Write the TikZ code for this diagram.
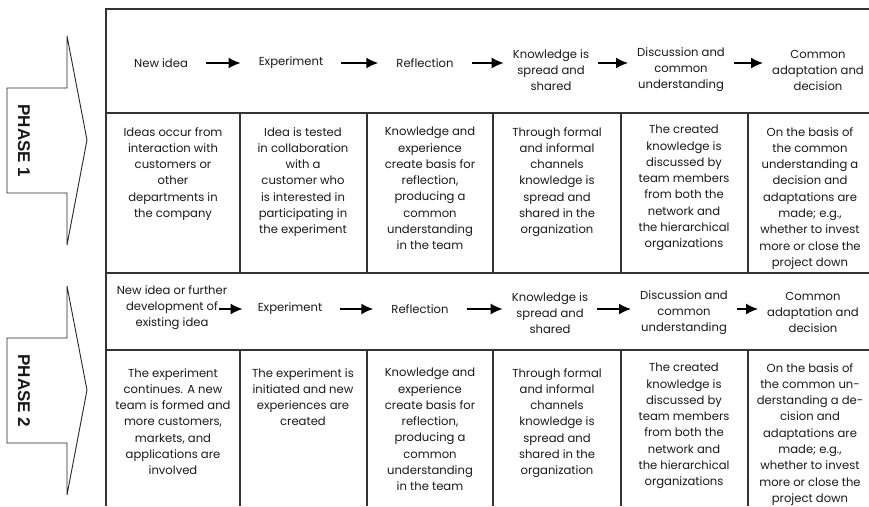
\documentclass[tikz,border=0pt]{standalone}
\usepackage{fontspec}
\setmainfont{Poppins}
\setsansfont{Liberation Sans}
\usetikzlibrary{arrows.meta}

\begin{document}
\begin{tikzpicture}[x=1pt,y=-1pt]
	\tikzstyle{frame}=[draw=black!80,line width=1.4pt]
	\tikzstyle{phasearrow}=[draw=black!85,line width=0.9pt,fill=white]
	\tikzstyle{phaselabel}=[font=\sffamily\bfseries\fontsize{17}{17}\selectfont,rotate=-90,inner sep=0pt,text=black!90]
	\tikzstyle{head}=[align=center,font=\fontsize{11.6}{16}\selectfont,inner xsep=9pt,inner ysep=1pt,text=black!90]
	\tikzstyle{word}=[head,inner xsep=18pt]
	\tikzstyle{cell}=[align=center,anchor=north,font=\fontsize{11.6}{16.3}\selectfont,inner sep=0pt,text=black!90]
	\tikzstyle{flow}=[-{Latex[length=12pt,width=11pt]},line width=1.6pt]

	\useasboundingbox (0,0) rectangle (869,506);

	\draw[frame] (869,9) -- (106,9) -- (106,506);
	\draw[frame] (106,113) -- (869,113);
	\draw[frame] (106,273) -- (869,273);
	\draw[frame] (106,350) -- (869,350);
	\foreach \x in {240,367,493,621,748} {
		\draw[frame] (\x,113) -- (\x,273);
		\draw[frame] (\x,350) -- (\x,506);
	}

	\foreach \n/\dy in {1/0,2/250} {
		\draw[phasearrow] (7,88+\dy) -- (67,88+\dy) -- (67,36+\dy) -- (87,140+\dy)
			-- (67,245+\dy) -- (67,193+\dy) -- (7,193+\dy) -- cycle;
		\node[phaselabel] (phase\n) at (24,141+\dy) {PHASE \n};
	}

	\node[word] (idea1) at (161,63) {New idea};
	\node[word] (exper1) at (291,63) {Experiment};
	\node[word] (refl1) at (425,63) {Reflection};
	\node[head] (know1) at (551,70) {Knowledge is\\spread and\\shared};
	\node[head] (disc1) at (681,70) {Discussion and\\common\\understanding};
	\node[head] (comm1) at (818,70) {Common\\adaptation and\\decision};

	\draw[flow] (idea1) -- (exper1);
	\draw[flow] (exper1) -- (refl1);
	\draw[flow] (refl1) -- (refl1 -| know1.west);
	\draw[flow] (know1.east |- refl1) -- (disc1.west |- refl1);
	\draw[flow] (disc1.east |- refl1) -- (comm1.west |- refl1);

	\node[cell] (occur1) at (173,127) {Ideas occur from\\interaction with\\customers or\\other\\departments in\\the company};
	\node[cell] (tested1) at (303,127) {Idea is tested\\in collaboration\\with a\\customer who\\is interested in\\participating in\\the experiment};
	\node[cell] (basis1) at (430,127) {Knowledge and\\experience\\create basis for\\reflection,\\producing a\\common\\understanding\\in the team};
	\node[cell] (channels1) at (557,127) {Through formal\\and informal\\channels\\knowledge is\\spread and\\shared in the\\organization};
	\node[cell] (created1) at (684,125) {The created\\knowledge is\\discussed by\\team members\\from both the\\network and\\the hierarchical\\organizations};
	\node[cell] (decision1) at (810,127) {On the basis of\\the common\\understanding a\\decision and\\adaptations are\\made; e.g.,\\whether to invest\\more or close the\\project down};

	\node[head,inner xsep=-2pt] (idea2) at (172,308) {New idea or further\\development of\\existing idea};
	\node[word] (exper2) at (290,309) {Experiment};
	\node[word] (refl2) at (420,309) {Reflection};
	\node[head] (know2) at (550,313) {Knowledge is\\spread and\\shared};
	\node[head] (disc2) at (684,313) {Discussion and\\common\\understanding};
	\node[head] (comm2) at (813,312) {Common\\adaptation and\\decision};

	\draw[flow,shorten <=-6pt,shorten >=-3pt] (idea2.east |- exper2) -- (exper2);
	\draw[flow] (exper2) -- (refl2);
	\draw[flow] (refl2) -- (refl2 -| know2.west);
	\draw[flow] (know2.east |- refl2) -- (disc2.west |- refl2);
	\draw[flow] (disc2.east |- refl2) -- (comm2.west |- refl2);

	\node[cell] (continues2) at (173,368) {The experiment\\continues. A new\\team is formed and\\more customers,\\markets, and\\applications are\\involved};
	\node[cell] (initiated2) at (303,368) {The experiment is\\initiated and new\\experiences are\\created};
	\node[cell] (basis2) at (430,368) {Knowledge and\\experience\\create basis for\\reflection,\\producing a\\common\\understanding\\in the team};
	\node[cell] (channels2) at (557,368) {Through formal\\and informal\\channels\\knowledge is\\spread and\\shared in the\\organization};
	\node[cell] (created2) at (684,363) {The created\\knowledge is\\discussed by\\team members\\from both the\\network and\\the hierarchical\\organizations};
	\node[cell] (decision2) at (810,363) {On the basis of\\the common un-\\derstanding a de-\\cision and\\adaptations are\\made; e.g.,\\whether to invest\\more or close the\\project down};
\end{tikzpicture}
\end{document}
